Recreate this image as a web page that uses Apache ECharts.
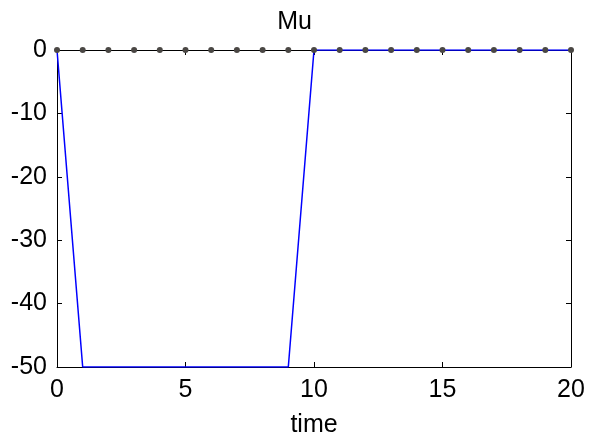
<!DOCTYPE html>
<html>
<head>
<meta charset="utf-8">
<script src="https://cdn.jsdelivr.net/npm/echarts@6/dist/echarts.min.js"></script>
<style>
  html, body { margin: 0; padding: 0; background: #fff; }
  #chart { width: 589px; height: 440px; }
</style>
</head>
<body>
<div id="chart"></div>
<script>
// time steps and values
const time = [0, 1, 2, 3, 4, 5, 6, 7, 8, 9, 10, 11, 12, 13, 14, 15, 16, 17, 18, 19, 20]
const muValues = [0, -50, -50, -50, -50, -50, -50, -50, -50, -50, 0, 0, 0, 0, 0, 0, 0, 0, 0, 0, 0]
const refValues = [0, 0, 0, 0, 0, 0, 0, 0, 0, 0, 0, 0, 0, 0, 0, 0, 0, 0, 0, 0, 0]

const font = 'Liberation Sans, Arial, sans-serif'

const pairs = (xs, ys) => xs.map((x, i) => [x, ys[i]])

const chart = echarts.init(document.getElementById('chart'), null, { renderer: 'canvas' })

// 边框轴 (top / right) 只画刻度
const boxAxis = {
  axisLine: { show: true, onZero: false, lineStyle: { color: '#000', width: 1 } },
  axisTick: { show: true, inside: true, length: 5, lineStyle: { color: '#000' } },
  axisLabel: { show: false },
  splitLine: { show: false }
}

chart.setOption({
  animation: false,
  backgroundColor: '#fff',
  title: {
    text: 'Mu',
    left: 'center',
    top: 5,
    textStyle: { fontFamily: font, fontSize: 25, fontWeight: 'normal', color: '#000' }
  },
  grid: { left: 57, right: 18, top: 50, bottom: 73, outerBoundsMode: 'none', containLabel: false },
  xAxis: [
    {
      type: 'value', min: 0, max: 20, interval: 5,
      name: 'time', nameLocation: 'middle', nameGap: 46,
      nameTextStyle: { fontFamily: font, fontSize: 25, color: '#000' },
      ...boxAxis,
      axisLabel: { show: true, fontFamily: font, fontSize: 25, color: '#000', margin: 11 }
    },
    { type: 'value', min: 0, max: 20, interval: 5, position: 'top', ...boxAxis }
  ],
  yAxis: [
    {
      type: 'value', min: -50, max: 0, interval: 10,
      ...boxAxis,
      axisLabel: { show: true, fontFamily: font, fontSize: 25, color: '#000', margin: 10 }
    },
    { type: 'value', min: -50, max: 0, interval: 10, position: 'right', ...boxAxis }
  ],
  series: [
    {
      type: 'line',
      data: pairs(time, muValues),
      showSymbol: false,
      lineStyle: { color: '#0000ff', width: 1.5 },
      z: 3
    },
    {
      type: 'line',
      data: pairs(time, refValues),
      symbol: 'circle',
      symbolSize: 6,
      itemStyle: { color: '#4a4744' },
      lineStyle: { width: 0 },
      z: 4
    }
  ]
})
</script>
</body>
</html>
